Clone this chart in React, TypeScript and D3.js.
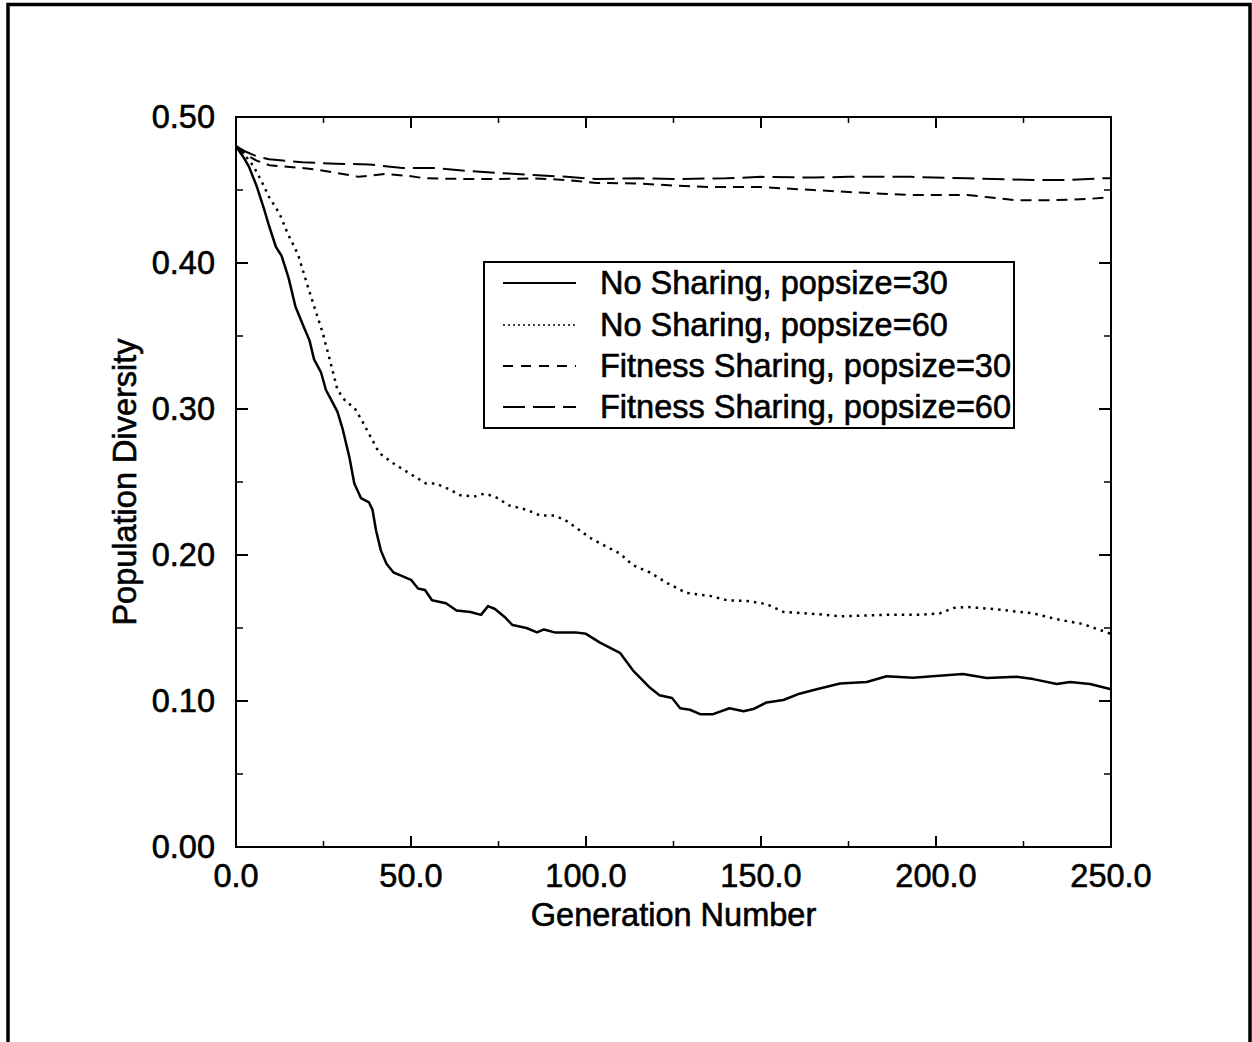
import React from "react";
import * as d3 from "d3";

const xTicksMajor = [0, 50, 100, 150, 200, 250];
const xTickLabels = ["0.0", "50.0", "100.0", "150.0", "200.0", "250.0"];
const xTicksMinor = [25, 75, 125, 175, 225];
const yTicksMajor = [0, 0.1, 0.2, 0.3, 0.4, 0.5];
const yTickLabels = ["0.00", "0.10", "0.20", "0.30", "0.40", "0.50"];
const yTicksMinor = [0.05, 0.15, 0.25, 0.35, 0.45];

const seriesNames = [
  "No Sharing, popsize=30",
  "No Sharing, popsize=60",
  "Fitness Sharing, popsize=30",
  "Fitness Sharing, popsize=60",
];

const noShare30: [number, number][] = [
  [0, 0.48], [2, 0.473], [3.7, 0.466], [6, 0.452], [8, 0.437], [9.5, 0.425], [11.4, 0.411], [13, 0.405],
  [15, 0.39], [17, 0.37], [19.4, 0.356], [21, 0.347], [22.3, 0.334], [24.3, 0.325], [25.7, 0.313],
  [27.7, 0.304], [29, 0.298], [30.5, 0.286], [32.4, 0.267], [33.8, 0.249], [35.7, 0.239], [38, 0.236],
  [39, 0.231], [40, 0.217], [41.4, 0.203], [43, 0.194], [45, 0.188], [47, 0.186], [50, 0.183], [52, 0.177],
  [54, 0.176], [56, 0.169], [60, 0.167], [63, 0.162], [67, 0.161], [70, 0.159], [72, 0.165], [74, 0.163],
  [77, 0.157], [79, 0.152], [83, 0.15], [86, 0.147], [88, 0.149], [91, 0.147], [97, 0.147], [100, 0.146],
  [104, 0.14], [109.7, 0.133], [113.4, 0.121], [118.3, 0.109], [121, 0.104], [124.6, 0.102], [126.9, 0.095],
  [129.7, 0.094], [132.6, 0.091], [136.3, 0.091], [141, 0.095], [145, 0.093], [147.8, 0.0945], [151.6, 0.099],
  [156.4, 0.1007], [161, 0.105], [165.9, 0.108], [172.6, 0.112], [180.2, 0.113], [185.9, 0.117], [193.4, 0.116],
  [199, 0.117], [207.7, 0.1185], [214.5, 0.1157], [223, 0.1166], [227.8, 0.115], [234.5, 0.1117], [238.3, 0.113],
  [244, 0.1117], [250, 0.108],
];

const noShare60: [number, number][] = [
  [0, 0.48], [2.5, 0.474], [4.8, 0.467], [7.1, 0.457], [9.5, 0.445], [12.4, 0.434], [14.8, 0.42], [17.7, 0.406],
  [20.5, 0.384], [22.9, 0.366], [24.8, 0.352], [27.1, 0.331], [29, 0.313], [31.4, 0.305], [33.8, 0.301],
  [36, 0.292], [38, 0.283], [40.9, 0.27], [44.8, 0.263], [49.5, 0.256], [54.3, 0.249], [57, 0.249], [61, 0.245],
  [64, 0.241], [68, 0.24], [71, 0.242], [74, 0.24], [78, 0.234], [83, 0.231], [87, 0.227], [91, 0.227],
  [94, 0.224], [97, 0.219], [101, 0.212], [104, 0.208], [109.7, 0.201], [113.4, 0.193], [118.3, 0.188],
  [123, 0.181], [128.7, 0.174], [135.4, 0.172], [140.3, 0.169], [146, 0.1685], [151.6, 0.1664], [156.4, 0.161],
  [166, 0.1595], [172.6, 0.158], [185, 0.159], [194.5, 0.159], [201, 0.16], [205, 0.1637], [208.9, 0.1644],
  [216.5, 0.163], [227.8, 0.16], [234.5, 0.156], [242, 0.1527], [250, 0.146],
];

const fitShare30: [number, number][] = [
  [0, 0.48], [3, 0.474], [6, 0.47], [9.5, 0.467], [19, 0.465], [23.8, 0.4637], [30.5, 0.461], [35, 0.459],
  [42.8, 0.461], [49.5, 0.4596], [54, 0.458], [66, 0.4575], [75, 0.4575], [85, 0.458], [94.5, 0.4568],
  [103, 0.4548], [115, 0.4545], [125, 0.453], [135, 0.452], [150, 0.452], [165, 0.45], [175, 0.4486],
  [192.6, 0.4466], [209, 0.4466], [215, 0.445], [223, 0.443], [232.6, 0.443], [243, 0.4438], [250, 0.445],
];

const fitShare60: [number, number][] = [
  [0, 0.48], [3, 0.476], [6, 0.473], [9.5, 0.471], [19, 0.469], [28.6, 0.468], [38, 0.4675], [47.6, 0.465],
  [57, 0.465], [66, 0.463], [75, 0.4617], [85, 0.4603], [94.5, 0.459], [103, 0.4575], [115, 0.458],
  [125, 0.4575], [140, 0.458], [150, 0.459], [165, 0.4585], [175, 0.459], [192.6, 0.459], [209, 0.458],
  [227.8, 0.4568], [237, 0.4568], [247, 0.458], [250, 0.458],
];

const allSeries = [noShare30, noShare60, fitShare30, fitShare60];
const dashes = ["none", "2.5,5", "11,7", "22,8"];
const widths = [2.5, 2.5, 2, 2];

const FONT = "'Liberation Sans', Arial, Helvetica, sans-serif";

export default function App() {
  const W = 1252, H = 1042;
  const left = 236, right = 1111, top = 117, bottom = 847;
  const x = d3.scaleLinear().domain([0, 250]).range([left, right]);
  const y = d3.scaleLinear().domain([0, 0.5]).range([bottom, top]);
  const line = d3.line<[number, number]>().x((d) => x(d[0])).y((d) => y(d[1]));

  const fs = 32.5;
  const ts = { fill: "#000", stroke: "#000", strokeWidth: 0.6 };
  const legX = 484, legY = 262, legW = 530, legH = 166;
  const rowY = [283, 325, 366, 407];

  return (
    <svg width={W} height={H} style={{ position: "absolute", left: 0, top: 0, background: "#fff" }}
      fontFamily={FONT}>
      <rect x={0} y={0} width={W} height={H} fill="#fff" />
      <rect x={8} y={4.5} width={1242} height={1100} fill="none" stroke="#000" strokeWidth={3.5} />

      {allSeries.map((s, i) => (
        <path key={i} d={line(s) || ""} fill="none" stroke="#000" strokeWidth={widths[i]}
          strokeDasharray={dashes[i]} strokeLinejoin="round" />
      ))}

      <rect x={left} y={top} width={right - left} height={bottom - top} fill="none" stroke="#000" strokeWidth={2} />

      {xTicksMajor.map((t) => (
        <g key={"xM" + t}>
          <line x1={x(t)} x2={x(t)} y1={bottom} y2={bottom - 11} stroke="#000" strokeWidth={2} />
          <line x1={x(t)} x2={x(t)} y1={top} y2={top + 11} stroke="#000" strokeWidth={2} />
        </g>
      ))}
      {xTicksMinor.map((t) => (
        <g key={"xm" + t}>
          <line x1={x(t)} x2={x(t)} y1={bottom} y2={bottom - 6} stroke="#000" strokeWidth={1.5} />
          <line x1={x(t)} x2={x(t)} y1={top} y2={top + 6} stroke="#000" strokeWidth={1.5} />
        </g>
      ))}
      {yTicksMajor.map((t) => (
        <g key={"yM" + t}>
          <line x1={left} x2={left + 12} y1={y(t)} y2={y(t)} stroke="#000" strokeWidth={2} />
          <line x1={right} x2={right - 12} y1={y(t)} y2={y(t)} stroke="#000" strokeWidth={2} />
        </g>
      ))}
      {yTicksMinor.map((t) => (
        <g key={"ym" + t}>
          <line x1={left} x2={left + 7} y1={y(t)} y2={y(t)} stroke="#000" strokeWidth={1.5} />
          <line x1={right} x2={right - 7} y1={y(t)} y2={y(t)} stroke="#000" strokeWidth={1.5} />
        </g>
      ))}

      {xTicksMajor.map((t, i) => (
        <text key={"xl" + t} x={x(t)} y={887} fontSize={fs} textAnchor="middle" {...ts}>{xTickLabels[i]}</text>
      ))}
      {yTicksMajor.map((t, i) => (
        <text key={"yl" + t} x={215} y={y(t) + 11} fontSize={fs} textAnchor="end" {...ts}>{yTickLabels[i]}</text>
      ))}

      <text x={(left + right) / 2} y={926} fontSize={fs} textAnchor="middle" {...ts}>Generation Number</text>
      <text transform={`translate(136, ${(top + bottom) / 2}) rotate(-90)`} fontSize={fs} textAnchor="middle" {...ts}>
        Population Diversity
      </text>

      <rect x={legX} y={legY} width={legW} height={legH} fill="#fff" stroke="#000" strokeWidth={2} />
      {seriesNames.map((n, i) => (
        <g key={n}>
          <line x1={503} x2={576} y1={rowY[i]} y2={rowY[i]} stroke="#000" strokeWidth={i === 1 ? 1.5 : 2}
            strokeDasharray={i === 1 ? "2,3" : i === 2 ? "10,8" : dashes[i]} />
          <text x={600} y={rowY[i] + 11} fontSize={fs} {...ts}>{n}</text>
        </g>
      ))}
    </svg>
  );
}
